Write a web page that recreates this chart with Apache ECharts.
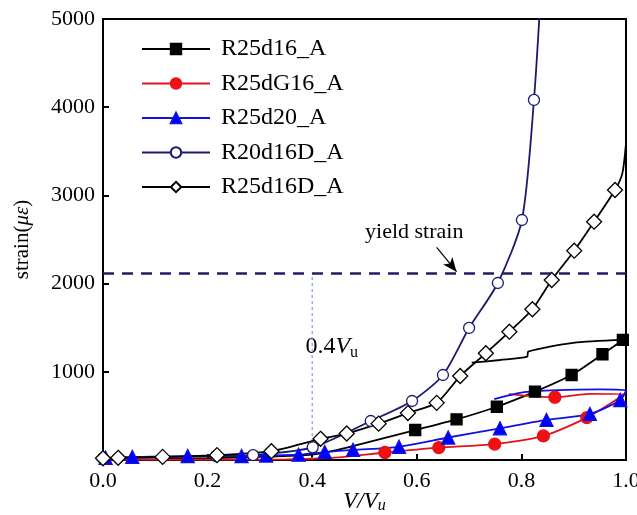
<!DOCTYPE html>
<html><head><meta charset="utf-8">
<script src="https://cdn.jsdelivr.net/npm/echarts@6/dist/echarts.min.js"></script>
<style>html,body{margin:0;padding:0;background:#fff}#c{width:637px;height:515px}</style>
</head><body><div id="c"></div>
<script>
// ---- data ----
const seriesNames = ['R25d16_A','R25dG16_A','R25d20_A','R20d16D_A','R25d16D_A'];
const xMin = 0, xMax = 1.0, xStep = 0.2;
const yMin = 0, yMax = 5000, yStep = 1000;
const yieldStrain = 2120;
const guideX = 0.4;
const arrowFrom = [0.638, 2412];
const arrowTo = [0.676, 2135];
const yieldLabelAt = [0.501, 2710];
const guideLabelAt = [0.387, 1420];

// R25d16_A (filled squares)
const r25d16Pre = [[0,5],[0.1,10],[0.2,20],[0.3,35],[0.4,60],[0.445,110],[0.5,190]];
const r25d16 = [[0.597,340],[0.676,461],[0.753,604],[0.826,775],[0.896,964],[0.955,1199],[0.994,1361]];
const r25d16Post = [[0.899,1327],[0.813,1228],[0.811,1171],[0.759,1134],[0.705,1103]];
// R25dG16_A (filled circles)
const r25dg16Pre = [[0,5],[0.2,5],[0.35,8],[0.45,30]];
const r25dg16 = [[0.539,85],[0.642,140],[0.749,180],[0.842,273],[0.925,480]];
const r25dg16Post = [[0.998,748],[0.93,750]];
const r25dg16Tail = [[0.864,712]];
const r25dg16End = [[0.776,748]];
// R25d20_A (filled triangles)
const r25d20 = [[0.005,25],[0.056,35],[0.162,45],[0.265,45],[0.312,50],[0.374,60],[0.424,90],[0.478,115],[0.566,150],[0.660,255],[0.759,359],[0.848,454],[0.931,522],[0.989,680]];
const r25d20Post = [[1.0,790],[0.95,800],[0.87,792],[0.8,765],[0.748,690]];
// R20d16D_A (open circles)
const r20d16D = [[0.0,20],[0.216,45],[0.287,55],[0.401,144],[0.512,442],[0.591,669],[0.650,964],[0.700,1497],[0.755,2007],[0.801,2721],[0.824,4082]];
const r20d16DPost = [[0.838,5400]];
// R25d16D_A (open diamonds)
const r25d16D = [[0.0,20],[0.029,25],[0.114,35],[0.218,55],[0.322,100],[0.416,240],[0.466,300],[0.527,412],[0.583,532],[0.638,648],[0.683,952],[0.732,1210],[0.777,1455],[0.821,1709],[0.858,2041],[0.901,2373],[0.939,2702],[0.979,3061]];
const r25d16DPost = [[0.993,3250],[1.0,3590]];

const FONT = 'Liberation Serif';
function mk(marked, unmarkedBefore, unmarkedAfter){
  const a = (unmarkedBefore||[]).map(p=>({value:p, symbol:'none'}));
  const b = marked.map(p=>({value:p}));
  const c = (unmarkedAfter||[]).map(p=>({value:p, symbol:'none'}));
  return a.concat(b, c);
}
function series(name, data, color, symbol, size, fill, extra){
  return Object.assign({
    name, type:'line', data, smooth:0.25, clip:true,
    symbol, symbolSize:size, showSymbol:true,
    lineStyle:{color, width:1.8},
    itemStyle:{color:fill, borderColor:color, borderWidth:1.3},
    emphasis:{disabled:true}, z:3
  }, extra||{});
}
const redData = mk(r25dg16, r25dg16Pre, r25dg16Post)
  .concat(r25dg16Tail.map(p=>({value:p})))
  .concat(r25dg16End.map(p=>({value:p, symbol:'none'})));

const chart = echarts.init(document.getElementById('c'), null, {renderer:'canvas'});
const option = {
  animation:false,
  backgroundColor:'#fff',
  grid:{left:103, right:11, top:19, bottom:55, containLabel:false, outerBoundsMode:'none',
        show:true, borderColor:'#000', borderWidth:2, backgroundColor:'transparent'},
  legend:{
    orient:'vertical', left:136, top:32, itemWidth:68, itemHeight:13, itemGap:10.5,
    textStyle:{fontFamily:FONT, fontSize:24, color:'#000', padding:[0,0,0,6]},
    data:seriesNames
  },
  xAxis:{
    type:'value', min:xMin, max:xMax, interval:xStep,
    axisLine:{lineStyle:{color:'#000', width:2}},
    axisTick:{inside:true, length:6, lineStyle:{color:'#000', width:2}},
    axisLabel:{fontFamily:FONT, fontSize:22, color:'#000', margin:10, formatter:v=>v.toFixed(1)},
    splitLine:{show:false},
    name:'{i|V}{i|/}{i|V}{s|u}', nameLocation:'middle', nameGap:30, nameMoveOverlap:false,
    nameTextStyle:{rich:{i:{fontFamily:FONT, fontStyle:'italic', fontSize:23, color:'#000'}, s:{fontFamily:FONT, fontStyle:'italic', fontSize:16, color:'#000', padding:[8,0,0,0]}}}
  },
  yAxis:{
    type:'value', min:yMin, max:yMax, interval:yStep,
    axisLine:{lineStyle:{color:'#000', width:2}},
    axisTick:{inside:true, length:6, lineStyle:{color:'#000', width:2}},
    axisLabel:{fontFamily:FONT, fontSize:22, color:'#000', margin:8, formatter:v=>v===0?'':String(v)},
    splitLine:{show:false},
    name:'{n|strain(}{i|με}{n|)}', nameLocation:'middle', nameGap:70, nameRotate:90, nameMoveOverlap:false,
    nameTextStyle:{rich:{n:{fontFamily:FONT, fontSize:21, color:'#000'}, i:{fontFamily:FONT, fontStyle:'italic', fontSize:21, color:'#000'}}}
  },
  series:[
    series('R25d16_A', mk(r25d16, r25d16Pre, r25d16Post), '#000', 'rect', 11, '#000'),
    series('R25dG16_A', redData, '#e3121b', 'circle', 12, '#f01010'),
    series('R25d20_A', mk(r25d20, [], r25d20Post), '#1010e0', 'triangle', 13, '#0000ff'),
    series('R20d16D_A', mk(r20d16D, [], r20d16DPost), '#1a1a6e', 'circle', 11, '#fff'),
    series('R25d16D_A', mk(r25d16D, [], r25d16DPost), '#000', 'diamond', 15, '#fff'),
    {
      type:'line', data:[[guideX, yMin],[guideX, yieldStrain]], symbol:'none', silent:true,
      lineStyle:{color:'#7f9ad0', width:1.2, type:[3,3]}, z:1,
      markLine:{
        silent:true, symbol:'none', label:{show:false},
        lineStyle:{color:'#1f1f66', width:2.5, type:[11,8]},
        data:[{yAxis:yieldStrain}]
      }
    },
    {
      type:'line', data:[], silent:true,
      markLine:{
        silent:true, symbol:['none','arrow'], symbolSize:[9,14], label:{show:false},
        lineStyle:{color:'#000', width:1.2, type:'solid'},
        data:[[{coord:arrowFrom},{coord:arrowTo}]]
      }
    }
  ]
};
chart.setOption(option);
const pY = chart.convertToPixel({gridIndex:0}, yieldLabelAt);
const pG = chart.convertToPixel({gridIndex:0}, guideLabelAt);
chart.setOption({graphic:[
  {type:'text', left:pY[0], top:pY[1], style:{text:'yield strain', font:'22px "Liberation Serif"', fill:'#000'}},
  {type:'text', left:pG[0], top:pG[1], style:{rich:{n:{fontFamily:FONT, fontSize:24, fill:'#000'}, i:{fontFamily:FONT, fontStyle:'italic', fontSize:24, fill:'#000'}, s:{fontFamily:FONT, fontSize:16, fill:'#000', padding:[12,0,0,0]}}, text:'{n|0.4}{i|V}{s|u}'}}
]});
</script></body></html>
